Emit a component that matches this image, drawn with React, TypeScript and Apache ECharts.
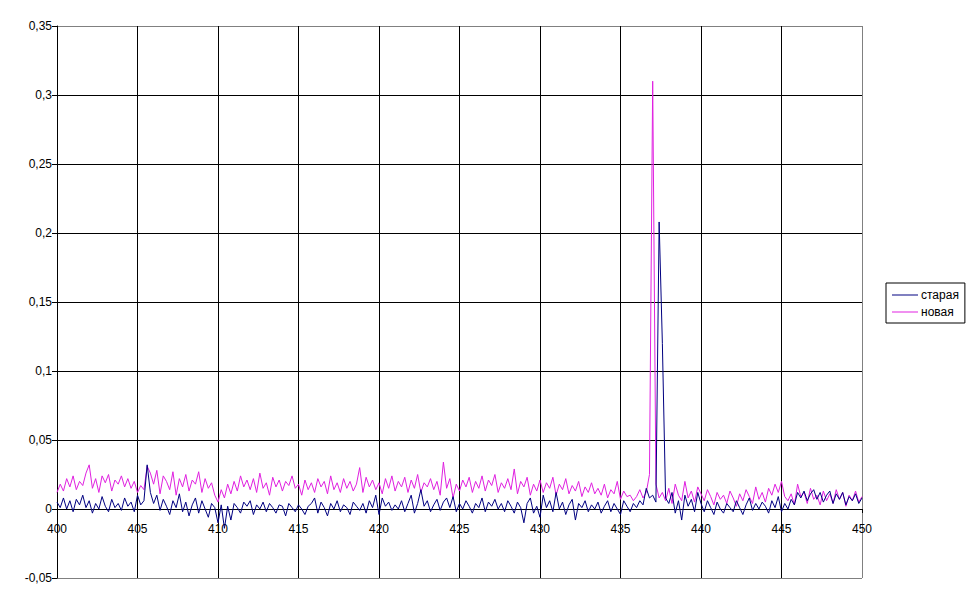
import React, { useEffect, useRef } from "react";
import * as echarts from "echarts";

const xStart = 400;
const xStep = 0.2;
const xTicks = [400, 405, 410, 415, 420, 425, 430, 435, 440, 445, 450];
const seriesNames = ["старая", "новая"];

// новая (magenta), 400..450 step 0.2
const novaya = [
  0.012, 0.018, 0.013, 0.022, 0.016, 0.024, 0.014, 0.020, 0.017, 0.026,
  0.032, 0.015, 0.022, 0.012, 0.024, 0.019, 0.025, 0.013, 0.021, 0.018,
  0.024, 0.016, 0.022, 0.015, 0.020, 0.012, 0.017, 0.014, 0.031, 0.026,
  0.018, 0.028, 0.011, 0.024, 0.020, 0.014, 0.027, 0.010, 0.022, 0.016,
  0.025, 0.013, 0.021, 0.018, 0.027, 0.012, 0.022, 0.015, 0.019, 0.010,
  0.005, 0.014, 0.008, 0.018, 0.011, 0.020, 0.013, 0.024, 0.016, 0.021,
  0.014, 0.022, 0.012, 0.026, 0.015, 0.019, 0.010, 0.023, 0.016, 0.021,
  0.013, 0.020, 0.017, 0.024, 0.015, 0.018, 0.010, 0.021, 0.014, 0.019,
  0.012, 0.022, 0.016, 0.020, 0.011, 0.024, 0.014, 0.019, 0.012, 0.022,
  0.015, 0.020, 0.013, 0.018, 0.030, 0.012, 0.023, 0.016, 0.021, 0.014,
  0.019, 0.011, 0.022, 0.015, 0.024, 0.013, 0.020, 0.016, 0.023, 0.012,
  0.021, 0.015, 0.025, 0.012, 0.019, 0.016, 0.022, 0.014, 0.020, 0.010,
  0.034, 0.015, 0.022, 0.008, 0.018, 0.013, 0.021, 0.016, 0.023, 0.012,
  0.020, 0.015, 0.024, 0.013, 0.021, 0.017, 0.025, 0.012, 0.019, 0.015,
  0.022, 0.014, 0.029, 0.011, 0.020, 0.016, 0.023, 0.010, 0.018, 0.013,
  0.021, 0.012, 0.019, 0.015, 0.023, 0.010, 0.018, 0.014, 0.022, 0.011,
  0.017, 0.013, 0.020, 0.009, 0.016, 0.012, 0.019, 0.011, 0.015, 0.010,
  0.018, 0.008, 0.014, 0.011, 0.020, 0.007, 0.013, 0.009, 0.010, 0.006,
  0.009, 0.014, 0.008, 0.012, 0.025, 0.310, 0.018, 0.008, 0.012, 0.006,
  0.015, 0.004, 0.018, 0.010, 0.006, 0.020, 0.008, 0.013, 0.005, 0.016,
  0.011, 0.006, 0.014, 0.009, 0.003, 0.012, 0.007, 0.010, 0.004, 0.013,
  0.008, 0.002, 0.011, 0.006, 0.014, 0.009, 0.004, 0.016, 0.007, 0.012,
  0.005, 0.015, 0.010, 0.018, 0.012, 0.020, 0.009, 0.006, 0.011, 0.003,
  0.018, 0.009, 0.012, 0.004, 0.015, 0.007, 0.010, 0.003, 0.013, 0.006,
  0.011, 0.004, 0.014, 0.007, 0.012, 0.002, 0.010, 0.006, 0.013, 0.005,
  0.009,
];

// старая (navy), 400..450 step 0.2
const staraya = [
  0.005, 0.001, 0.008, 0.000, 0.006, -0.002, 0.007, 0.003, 0.010, 0.001,
  0.006, -0.003, 0.004, 0.000, 0.009, 0.002, -0.002, 0.007, 0.001, 0.004,
  -0.001, 0.008, 0.002, 0.005, -0.002, 0.010, 0.003, 0.006, 0.032, 0.012,
  0.004, 0.010, -0.001, 0.007, 0.002, -0.004, 0.006, 0.001, 0.011, -0.002,
  0.005, -0.005, 0.003, 0.008, -0.003, 0.006, 0.000, -0.006, 0.004, 0.001,
  -0.010, 0.003, -0.014, 0.002, -0.008, 0.004, 0.001, -0.003, 0.005, 0.002,
  0.006, -0.004, 0.003, 0.000, 0.005, -0.002, 0.004, 0.001, -0.003, 0.003,
  0.002, -0.005, 0.004, 0.001, -0.002, 0.003, 0.000, -0.004, 0.002, 0.004,
  0.008, -0.003, 0.005, 0.001, -0.005, 0.004, 0.000, 0.006, -0.002, 0.003,
  0.001, -0.004, 0.005, 0.002, -0.001, 0.004, -0.003, 0.006, 0.001, 0.010,
  -0.004, 0.008, 0.002, 0.005, -0.001, 0.003, 0.000, 0.006, -0.002, 0.004,
  0.010, -0.003, 0.004, 0.014, 0.002, 0.006, -0.002, 0.003, 0.007, -0.001,
  0.005, 0.008, 0.001, 0.009, -0.002, 0.004, 0.000, 0.006, 0.002, -0.003,
  0.004, 0.001, 0.008, -0.002, 0.005, 0.002, 0.007, 0.000, 0.004, -0.002,
  0.006, 0.002, -0.003, 0.005, 0.001, -0.010, 0.004, 0.008, -0.003, 0.002,
  -0.006, 0.010, 0.001, 0.006, -0.002, 0.012, 0.000, 0.005, -0.004, 0.003,
  0.007, -0.008, 0.004, 0.001, 0.006, -0.002, 0.003, 0.000, 0.005, -0.003,
  0.002, 0.006, -0.002, 0.004, 0.000, -0.004, 0.006, 0.002, -0.002, 0.004,
  0.001, 0.006, 0.003, 0.015, 0.008, 0.010, 0.005, 0.208, 0.120, 0.008,
  0.004, 0.012, -0.003, 0.006, -0.008, 0.010, 0.002, 0.007, -0.002, 0.012,
  0.004, -0.002, 0.006, 0.001, -0.004, 0.005, 0.000, -0.003, 0.004, 0.001,
  -0.002, 0.006, 0.001, -0.004, 0.003, 0.008, -0.001, 0.004, 0.000, 0.005,
  0.002, -0.003, 0.006, 0.001, 0.009, -0.002, 0.004, 0.000, 0.007, 0.003,
  0.012, 0.008, 0.013, 0.006, 0.011, 0.014, 0.007, 0.012, 0.005, 0.010,
  0.013, 0.004, 0.011, 0.007, 0.012, 0.003, 0.009, 0.006, 0.011, 0.004,
  0.008,
];

const toPairs = (arr: number[]) =>
  arr.map((v, i) => [Math.round((xStart + i * xStep) * 10) / 10, v]);

const fmt = (v: number) => String(Math.round(v * 100) / 100).replace(".", ",");

export default function App() {
  const ref = useRef<HTMLDivElement>(null);
  useEffect(() => {
    document.body.style.margin = "0";
    const chart = echarts.init(ref.current!, null, { renderer: "svg" });
    const font = "Liberation Sans, Arial, sans-serif";
    const yLineColors = ["#808080", "#000", "#000", "#000", "#000", "#000", "#000", "#000", "#808080"];
    const xLineColors = ["#000", "#000", "#000", "#000", "#000", "#000", "#000", "#000", "#000", "#000", "#808080"];
    chart.setOption({
      animation: false,
      backgroundColor: "#fff",
      grid: { left: 57, right: 108, top: 26, bottom: 26, containLabel: false },
      legend: {
        orient: "vertical",
        left: 886,
        top: 283,
        width: 76,
        borderColor: "#000",
        borderWidth: 1,
        padding: [6, 6, 5, 6],
        itemGap: 5,
        itemWidth: 26,
        itemHeight: 1,
        icon: "rect",
        textStyle: { fontFamily: font, fontSize: 12, color: "#000", padding: [0, 0, 0, -2] },
        data: seriesNames,
      },
      xAxis: {
        type: "value",
        min: 400,
        max: 450,
        interval: 5,
        position: "bottom",
        offset: -69,
        axisLine: { onZero: false, lineStyle: { color: "#000", width: 1 } },
        axisTick: { show: true, length: 4, lineStyle: { color: "#000" } },
        axisLabel: {
          fontFamily: font,
          fontSize: 12,
          color: "#000",
          margin: 14,
          formatter: (v: number) => (xTicks.includes(v) ? String(v) : ""),
        },
        splitLine: { show: true, lineStyle: { color: xLineColors, width: 1 } },
      },
      yAxis: {
        type: "value",
        min: -0.05,
        max: 0.35,
        interval: 0.05,
        axisLine: { show: true, onZero: false, lineStyle: { color: "#000", width: 1 } },
        axisTick: { show: true, length: 5, lineStyle: { color: "#000" } },
        axisLabel: { fontFamily: font, fontSize: 12, color: "#000", margin: 5, formatter: fmt },
        splitLine: { show: true, lineStyle: { color: yLineColors, width: 1 } },
      },
      series: [
        {
          name: seriesNames[0],
          type: "line",
          data: toPairs(staraya),
          showSymbol: false,
          symbol: "none",
          lineStyle: { color: "#000080", width: 1 },
          itemStyle: { color: "#000080" },
          z: 3,
        },
        {
          name: seriesNames[1],
          type: "line",
          data: toPairs(novaya),
          showSymbol: false,
          symbol: "none",
          lineStyle: { color: "#e020e0", width: 1 },
          itemStyle: { color: "#e020e0" },
          z: 2,
        },
      ],
    });
    return () => chart.dispose();
  }, []);
  return <div ref={ref} style={{ width: 970, height: 604 }} />;
}
